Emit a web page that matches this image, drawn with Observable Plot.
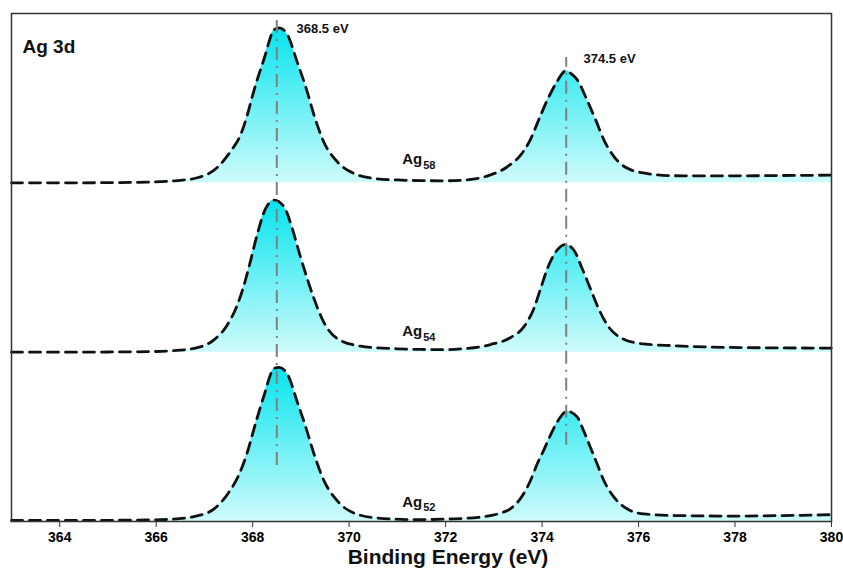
<!DOCTYPE html>
<html><head><meta charset="utf-8">
<script src="https://cdn.jsdelivr.net/npm/d3@7"></script>
<script src="https://cdn.jsdelivr.net/npm/@observablehq/plot@0.6"></script>
<style>body{margin:0;background:#fff} svg{display:block}</style>
</head><body><div id="chart"></div>
<script>
// ---- data (binding energy in eV, intensity in panel units) ----
const sampleNames = ["Ag58", "Ag54", "Ag52"];
const subscripts = ["58", "54", "52"];
const panelBaseline = [2, 1, 0];

const e58 = [363, 364, 365, 365.8, 366.3, 366.85, 367.26, 367.54, 367.75, 367.89, 368.02, 368.23, 368.45, 368.55, 368.72, 368.92, 369.13, 369.27, 369.47, 369.75, 370.08, 370.58, 371.0, 371.5, 372.0, 372.45, 372.86, 373.28, 373.55, 373.76, 373.93, 374.11, 374.31, 374.5, 374.6, 374.73, 374.93, 375.11, 375.28, 375.49, 375.76, 376.18, 376.73, 377.5, 378.5, 379.3, 380];
const i58 = [0, 0, 0.001, 0.004, 0.01, 0.03, 0.089, 0.185, 0.284, 0.402, 0.539, 0.727, 0.905, 0.915, 0.874, 0.716, 0.539, 0.402, 0.244, 0.126, 0.058, 0.024, 0.017, 0.013, 0.012, 0.018, 0.04, 0.095, 0.162, 0.257, 0.372, 0.49, 0.598, 0.663, 0.645, 0.608, 0.49, 0.372, 0.254, 0.155, 0.087, 0.055, 0.042, 0.041, 0.042, 0.044, 0.045];

const e54 = [363, 364, 365, 366, 366.5, 366.78, 367.19, 367.47, 367.68, 367.82, 367.95, 368.09, 368.27, 368.45, 368.65, 368.82, 368.96, 369.13, 369.27, 369.47, 369.75, 370.24, 370.58, 371.0, 371.5, 372.0, 372.35, 372.72, 372.93, 373.34, 373.62, 373.83, 373.97, 374.11, 374.31, 374.48, 374.66, 374.83, 375.0, 375.17, 375.38, 375.66, 376.04, 376.73, 377.5, 378.5, 380];
const i54 = [0, 0, 0.001, 0.004, 0.012, 0.022, 0.071, 0.159, 0.278, 0.396, 0.533, 0.691, 0.849, 0.898, 0.858, 0.731, 0.592, 0.435, 0.317, 0.179, 0.081, 0.035, 0.026, 0.02, 0.016, 0.015, 0.02, 0.031, 0.045, 0.085, 0.149, 0.258, 0.376, 0.494, 0.602, 0.636, 0.602, 0.494, 0.376, 0.258, 0.149, 0.081, 0.051, 0.038, 0.03, 0.026, 0.024];

const e52 = [363, 364, 365, 365.8, 366.3, 366.8, 367.2, 367.5, 367.72, 367.88, 368.02, 368.22, 368.45, 368.55, 368.72, 368.92, 369.12, 369.27, 369.48, 369.76, 370.1, 370.6, 371.4, 372.1, 372.78, 373.14, 373.34, 373.55, 373.76, 373.9, 374.03, 374.17, 374.31, 374.52, 374.73, 374.86, 375.0, 375.14, 375.28, 375.49, 375.76, 376.11, 376.8, 378, 379, 380];
const i52 = [0.006, 0.006, 0.007, 0.009, 0.013, 0.03, 0.075, 0.17, 0.28, 0.4, 0.54, 0.73, 0.905, 0.91, 0.87, 0.71, 0.54, 0.4, 0.24, 0.12, 0.05, 0.02, 0.011, 0.015, 0.028, 0.05, 0.075, 0.135, 0.242, 0.341, 0.419, 0.508, 0.586, 0.651, 0.616, 0.537, 0.439, 0.341, 0.242, 0.144, 0.075, 0.045, 0.035, 0.032, 0.035, 0.04];

const peakEnergies = [368.5, 374.5];
const peakLabels = ["368.5 eV", "374.5 eV"];
const xTicks = [364, 366, 368, 370, 372, 374, 376, 378, 380];
const xTitle = "Binding Energy (eV)";
const panelTitle = "Ag 3d";

// ---- build table ----
const energies = [e58, e54, e52];
const intensities = [i58, i54, i52];
const rows = [];
sampleNames.forEach((name, k) => {
  energies[k].forEach((e, j) => rows.push({sample: name, e, base: panelBaseline[k], v: panelBaseline[k] + intensities[k][j]}));
});

const gradientDefs = () => {
  const ns = "http://www.w3.org/2000/svg";
  const defs = document.createElementNS(ns, "defs");
  const g = document.createElementNS(ns, "linearGradient");
  g.setAttribute("id", "agFill");
  g.setAttribute("x1", "0"); g.setAttribute("y1", "0");
  g.setAttribute("x2", "0"); g.setAttribute("y2", "1");
  [["0", "#05e4ee"], ["1", "#cffbfb"]].forEach(([o, c]) => {
    const s = document.createElementNS(ns, "stop");
    s.setAttribute("offset", o); s.setAttribute("stop-color", c);
    g.appendChild(s);
  });
  defs.appendChild(g);
  return defs;
};

const ruleSpans = [{x: peakEnergies[0], y1: 0.33, y2: 2.976}, {x: peakEnergies[1], y1: 0.45, y2: 2.74}];
const peakText = [{x: 368.91, y: 2.911, t: peakLabels[0]}, {x: 374.86, y: 2.731, t: peakLabels[1]}];
const agText = [{x: 371.1, y: 2.137, s: subscripts[0]}, {x: 371.1, y: 1.121, s: subscripts[1]}, {x: 371.1, y: 0.117, s: subscripts[2]}];

const chart = Plot.plot({
  width: 843,
  height: 576,
  marginLeft: 11,
  marginRight: 12,
  marginTop: 13,
  marginBottom: 55,
  style: {fontFamily: "'Liberation Sans', Arial, sans-serif", fontWeight: "bold", background: "#fff"},
  x: {domain: [363, 380]},
  y: {domain: [0, 3], axis: null},
  marks: [
    gradientDefs,
    Plot.areaY(rows, {x: "e", y1: "base", y2: "v", z: "sample", fill: "url(#agFill)", curve: "monotone-x"}),
    Plot.line(rows, {x: "e", y: "v", z: "sample", stroke: "#111", strokeWidth: 2.8, strokeDasharray: "11,7", curve: "monotone-x"}),
    Plot.ruleX(ruleSpans, {x: "x", y1: "y1", y2: "y2", stroke: "#808080", strokeWidth: 2, strokeDasharray: "13,6,2,6"}),
    Plot.text(peakText, {x: "x", y: "y", text: "t", textAnchor: "start", fontSize: 13, fill: "#111"}),
    Plot.text(agText, {x: "x", y: "y", text: () => "Ag", textAnchor: "start", fontSize: 15, fill: "#111"}),
    Plot.text(agText, {x: "x", y: "y", text: "s", textAnchor: "start", dx: 21, dy: 5.6, fontSize: 11, fill: "#111"}),
    Plot.text([{t: panelTitle}], {frameAnchor: "top-left", text: "t", textAnchor: "start", dx: 11, dy: 26, fontSize: 19, fill: "#111"}),
    Plot.axisX({ticks: xTicks, tickSize: 6, tickPadding: 5, tickFormat: d => String(d), fontSize: 14, label: null, stroke: "#333"}),
    Plot.frame({stroke: "#333", strokeWidth: 1.5}),
    Plot.text([{t: xTitle, x: 372.05}], {x: "x", text: "t", frameAnchor: "bottom", dy: 42, fontSize: 21, fill: "#111"})
  ]
});
document.getElementById("chart").appendChild(chart);
</script>
</body></html>
